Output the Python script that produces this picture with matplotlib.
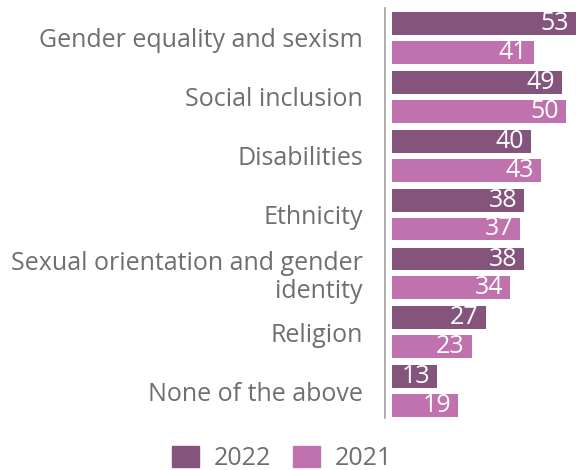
import matplotlib
matplotlib.use("Agg")
import matplotlib.pyplot as plt
from matplotlib.patches import Patch
import numpy as np

categories = ["Gender equality and sexism", "Social inclusion", "Disabilities",
              "Ethnicity", "Sexual orientation and gender\nidentity", "Religion",
              "None of the above"]
values_2022 = [53, 49, 40, 38, 38, 27, 13]
values_2021 = [41, 50, 43, 37, 34, 23, 19]
series_names = ["2022", "2021"]
colors = ["#84547C", "#BF72AE"]
text_color = "#6e6e73"

plt.rcParams['font.family'] = ['Open Sans', 'DejaVu Sans']

fig = plt.figure(figsize=(5.76, 4.70), dpi=100)
ax = fig.add_axes([385/576, 1-418/470, 191/576, 410/470])

y = np.arange(len(categories))
off = 0.49
h = 0.39
b1 = ax.barh(y, values_2022, height=h, color=colors[0])
b2 = ax.barh(y + off, values_2021, height=h, color=colors[1])

for bars, vals in ((b1, values_2022), (b2, values_2021)):
    for rect, v in zip(bars, vals):
        ax.annotate(str(v), xy=(rect.get_width(), rect.get_y() + rect.get_height()/2),
                    xytext=(-5, 0), textcoords="offset points",
                    ha="right", va="center", color="white", fontsize=18)

ax.set_xlim(-2, 53)
ax.set_ylim(6.70, -0.263)
ax.set_yticks(y + off/2)
ax.set_yticklabels(categories, fontsize=18, color=text_color, linespacing=1.12)
ax.tick_params(axis='y', length=0, pad=16)
ax.set_xticks([])
for s in ["top", "right", "bottom"]:
    ax.spines[s].set_visible(False)
ax.spines["left"].set_color("#a0a0a0")
ax.spines["left"].set_linewidth(1.2)

handles = [Patch(color=c, label=n) for c, n in zip(colors, series_names)]
fig.legend(handles=handles, loc="lower center", bbox_to_anchor=(0.49, -0.05), ncol=2,
           frameon=False, fontsize=18, labelcolor=text_color,
           handlelength=1.05, handleheight=0.95, handletextpad=0.6, columnspacing=0.9)

fig.savefig("out.png", dpi=100)
